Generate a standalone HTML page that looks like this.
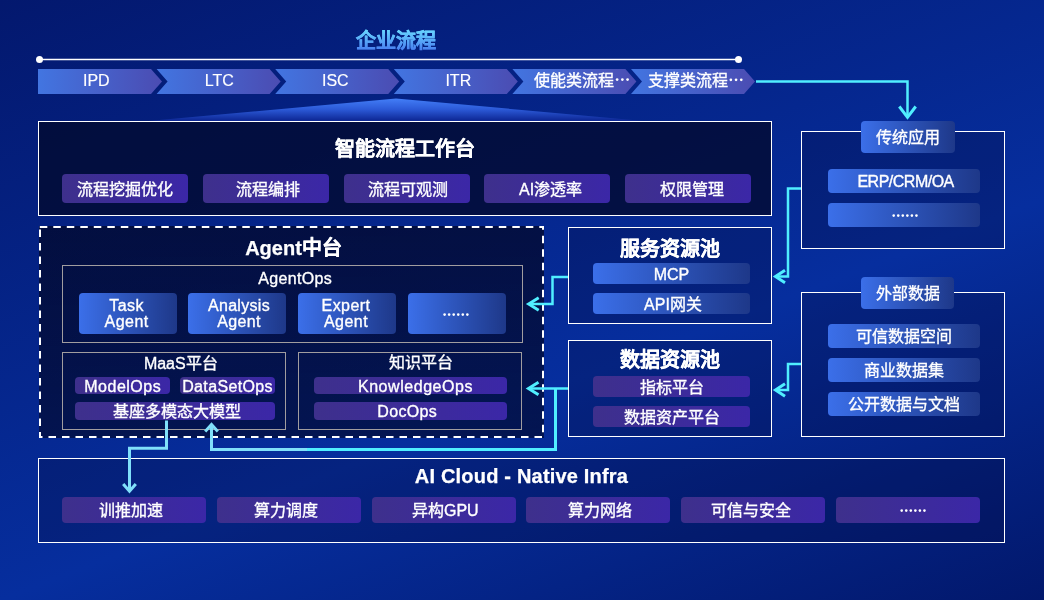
<!DOCTYPE html>
<html lang="zh-CN">
<head>
<meta charset="utf-8">
<style>
*{box-sizing:border-box;margin:0;padding:0}
html,body{width:1044px;height:600px;overflow:hidden}
body{position:relative;font-family:"Liberation Sans",sans-serif;color:#fff;font-size:16px;
background:linear-gradient(159deg,#03186e 0%,#062e9e 60%,#02186c 100%);}
.a{position:absolute}
.t{position:absolute;white-space:nowrap;text-align:center;line-height:20px;height:20px;-webkit-text-stroke:0.35px #fff}
.box{position:absolute;border:1px solid #fff}
.title{position:absolute;font-weight:bold;font-size:20px;line-height:20px;text-align:center;white-space:nowrap;-webkit-text-stroke:0.25px #fff}
.pb,.bb{position:absolute;border-radius:4px;text-align:center;white-space:nowrap;-webkit-text-stroke:0.35px #fff;padding-top:1px}
.pb{background:linear-gradient(90deg,#3e308c,#3b27a7)}
.bb{background:linear-gradient(90deg,#3b6fe9,#1e3889)}
.gbox{position:absolute;border:1px solid #a19d9f}
</style>
</head>
<body>
<div id="w" style="position:absolute;left:0;top:0;width:1044px;height:600px;will-change:transform">
<!-- top title -->
<svg class="a" style="left:296px;top:25px" width="200" height="30" viewBox="0 0 200 30"><defs><linearGradient id="tg" x1="0" y1="5" x2="0" y2="24" gradientUnits="userSpaceOnUse"><stop offset="0" stop-color="#68d6ff"/><stop offset="1" stop-color="#4a84f2"/></linearGradient></defs><text x="100" y="22.5" text-anchor="middle" font-family="Liberation Sans, sans-serif" font-weight="bold" font-size="20" fill="url(#tg)" stroke="url(#tg)" stroke-width="0.5">企业流程</text></svg>

<!-- timeline, chevrons, beam -->
<svg class="a" style="left:0;top:0" width="1044" height="130" viewBox="0 0 1044 130">
<defs>
<linearGradient id="cg" x1="0" y1="0" x2="1" y2="0"><stop offset="0" stop-color="#4275e1"/><stop offset="1" stop-color="#4b4cb2"/></linearGradient>
<linearGradient id="bg1" x1="0" y1="98.5" x2="0" y2="120" gradientUnits="userSpaceOnUse"><stop offset="0" stop-color="#437ef7"/><stop offset="0.5" stop-color="#2c5ad8"/><stop offset="1" stop-color="#0f2a98"/></linearGradient>
</defs>
<line x1="39" y1="59.5" x2="738" y2="59.5" stroke="#fff" stroke-width="1.5"/>
<circle cx="39.5" cy="59.5" r="3.5" fill="#fff"/>
<circle cx="738.5" cy="59.5" r="3.5" fill="#fff"/>
<polygon fill="url(#cg)" points="38,69 151,69 162,81.5 151,94 38,94"/>
<polygon fill="url(#cg)" points="156.6,69 269.6,69 280.6,81.5 269.6,94 156.6,94 167.6,81.5"/>
<polygon fill="url(#cg)" points="275.2,69 388.2,69 399.2,81.5 388.2,94 275.2,94 286.2,81.5"/>
<polygon fill="url(#cg)" points="393.8,69 506.8,69 517.8,81.5 506.8,94 393.8,94 404.8,81.5"/>
<polygon fill="url(#cg)" points="512.4,69 625.4,69 636.4,81.5 625.4,94 512.4,94 523.4,81.5"/>
<polygon fill="url(#cg)" points="631,69 744,69 755,81.5 744,94 631,94 642,81.5"/>
<polygon fill="url(#bg1)" points="148,121 396,98.5 644,121"/>
</svg>
<div class="t" style="left:46.3px;top:71.2px;width:100px;-webkit-text-stroke:0.15px #fff">IPD</div>
<div class="t" style="left:169.3px;top:71.2px;width:100px;-webkit-text-stroke:0.15px #fff">LTC</div>
<div class="t" style="left:285.3px;top:71.2px;width:100px;-webkit-text-stroke:0.15px #fff">ISC</div>
<div class="t" style="left:408.3px;top:71.2px;width:100px;-webkit-text-stroke:0.15px #fff">ITR</div>
<div class="t" style="left:533.6px;top:71.1px;text-align:left">使能类流程</div>
<div class="t" style="left:647.8px;top:71.1px;text-align:left">支撑类流程</div>

<!-- box 1 -->
<div class="box" style="left:38px;top:121px;width:734px;height:95px;background:rgba(3,10,48,.8)"></div>
<div class="title" style="left:38px;top:139px;width:734px">智能流程工作台</div>
<div class="pb" style="left:62px;top:174px;width:126px;height:29px;line-height:29px">流程挖掘优化</div>
<div class="pb" style="left:203px;top:174px;width:126px;height:29px;line-height:29px"><span style="position:relative;left:2px">流程编排</span></div>
<div class="pb" style="left:344px;top:174px;width:126px;height:29px;line-height:29px"><span style="position:relative;left:1.4px">流程可观测</span></div>
<div class="pb" style="left:484px;top:174px;width:126px;height:29px;line-height:29px"><span style="position:relative;left:3.6px">AI渗透率</span></div>
<div class="pb" style="left:625px;top:174px;width:126px;height:29px;line-height:29px"><span style="position:relative;left:3.5px">权限管理</span></div>

<!-- Agent 中台 -->
<div class="a" style="left:39px;top:226px;width:505px;height:212px;background:linear-gradient(180deg,rgba(3,10,48,.8),rgba(3,10,48,.68))"></div>
<svg class="a" style="left:0;top:0" width="1044" height="600" viewBox="0 0 1044 600">
<g fill="none" stroke="#fff" stroke-width="2" stroke-dasharray="7.5 6">
<path d="M39,227 H544" stroke-dashoffset="12.7"/>
<path d="M543,226 V438" stroke-dashoffset="3.8"/>
<path d="M544,437 H39" stroke-dashoffset="11.5"/>
<path d="M40,438 V226" stroke-dashoffset="1.5"/>
</g>
</svg>
<div class="title" style="left:41px;top:238px;width:505px">Agent中台</div>
<div class="gbox" style="left:62px;top:265px;width:461px;height:78px"></div>
<div class="t" style="left:62px;top:269px;width:461px"><span style="position:relative;left:2.7px;letter-spacing:0.34px">AgentOps</span></div>
<div class="bb" style="left:79px;top:293px;width:98px;height:41px;line-height:16.5px;padding-top:4.5px"><span style="position:relative;left:-1.4px;letter-spacing:0.5px">Task<br>Agent</span></div>
<div class="bb" style="left:188px;top:293px;width:98px;height:41px;line-height:16.5px;padding-top:4.5px"><span style="position:relative;left:2px;letter-spacing:0.3px">Analysis<br>Agent</span></div>
<div class="bb" style="left:298px;top:293px;width:98px;height:41px;line-height:16.5px;padding-top:4.5px"><span style="position:relative;left:-1px;letter-spacing:0.45px">Expert<br>Agent</span></div>
<div class="bb" style="left:408px;top:293px;width:98px;height:41px"></div>

<div class="gbox" style="left:62px;top:352px;width:224px;height:78px"></div>
<div class="t" style="left:80.8px;top:353.5px;width:200px">MaaS平台</div>
<div class="pb" style="left:75px;top:377px;width:95px;height:17px;line-height:17px"><span style="position:relative;left:0.25px;letter-spacing:0.5px">ModelOps</span></div>
<div class="pb" style="left:180px;top:377px;width:95px;height:17px;line-height:17px"><span style="position:relative;letter-spacing:0.34px">DataSetOps</span></div>
<div class="pb" style="left:75px;top:402px;width:200px;height:18px;line-height:18px"><span style="position:relative;left:2px">基座多模态大模型</span></div>

<div class="gbox" style="left:298px;top:352px;width:224px;height:78px"></div>
<div class="t" style="left:320.5px;top:352.5px;width:200px">知识平台</div>
<div class="pb" style="left:314px;top:377px;width:193px;height:17px;line-height:17px"><span style="position:relative;left:5px;letter-spacing:0.55px">KnowledgeOps</span></div>
<div class="pb" style="left:314px;top:402px;width:193px;height:18px;line-height:18px"><span style="position:relative;left:-3.3px;letter-spacing:0.35px">DocOps</span></div>

<!-- service / data pools -->
<div class="box" style="left:568px;top:227px;width:204px;height:97px;background:rgba(2,10,60,.3)"></div>
<div class="title" style="left:568px;top:238.5px;width:204px">服务资源池</div>
<div class="bb" style="left:593px;top:263px;width:157px;height:21px;line-height:21px">MCP</div>
<div class="bb" style="left:593px;top:293px;width:157px;height:21px;line-height:21px"><span style="position:relative;left:1.5px">API网关</span></div>

<div class="box" style="left:568px;top:340px;width:204px;height:97px;background:rgba(2,10,60,.3)"></div>
<div class="title" style="left:568px;top:349.5px;width:204px">数据资源池</div>
<div class="pb" style="left:593px;top:376px;width:157px;height:21px;line-height:21px">指标平台</div>
<div class="pb" style="left:593px;top:406px;width:157px;height:21px;line-height:21px">数据资产平台</div>

<!-- right column -->
<div class="box" style="left:801px;top:131px;width:204px;height:118px;background:rgba(2,10,60,.3)"></div>
<div class="bb" style="left:861px;top:121px;width:94px;height:32px;line-height:32px">传统应用</div>
<div class="bb" style="left:828px;top:169px;width:152px;height:24px;line-height:24px"><span style="position:relative;left:1.6px;letter-spacing:-0.5px">ERP/CRM/OA</span></div>
<div class="bb" style="left:828px;top:203px;width:152px;height:24px"></div>

<div class="box" style="left:801px;top:292px;width:204px;height:145px;background:rgba(2,10,60,.3)"></div>
<div class="bb" style="left:861px;top:277px;width:93px;height:32px;line-height:32px">外部数据</div>
<div class="bb" style="left:828px;top:324px;width:152px;height:24px;line-height:24px">可信数据空间</div>
<div class="bb" style="left:828px;top:358px;width:152px;height:24px;line-height:24px">商业数据集</div>
<div class="bb" style="left:828px;top:392px;width:152px;height:24px;line-height:24px">公开数据与文档</div>

<!-- AI cloud -->
<div class="box" style="left:38px;top:458px;width:967px;height:85px;background:rgba(2,10,60,.3)"></div>
<div class="title" style="left:38px;top:466px;width:967px"><span style="letter-spacing:0.19px">AI Cloud - Native Infra</span></div>
<div class="pb" style="left:62px;top:497px;width:144px;height:26px;line-height:26px"><span style="position:relative;left:-2.6px">训推加速</span></div>
<div class="pb" style="left:216.8px;top:497px;width:144px;height:26px;line-height:26px"><span style="position:relative;left:-2.9px">算力调度</span></div>
<div class="pb" style="left:371.6px;top:497px;width:144px;height:26px;line-height:26px"><span style="position:relative;left:1.7px">异构GPU</span></div>
<div class="pb" style="left:526.4px;top:497px;width:144px;height:26px;line-height:26px"><span style="position:relative;left:1.5px">算力网络</span></div>
<div class="pb" style="left:681.2px;top:497px;width:144px;height:26px;line-height:26px"><span style="position:relative;left:-2.1px">可信与安全</span></div>
<div class="pb" style="left:836px;top:497px;width:144px;height:26px"></div>

<!-- connectors + dots -->
<svg class="a" style="left:0;top:0" width="1044" height="600" viewBox="0 0 1044 600" fill="none" stroke="#50eeff" stroke-width="2.5" stroke-linejoin="miter" stroke-linecap="butt">
<defs><linearGradient id="lb" gradientUnits="userSpaceOnUse" x1="555" y1="0" x2="211" y2="0"><stop offset="0" stop-color="#4ff0ff"/><stop offset="1" stop-color="#80e0fa"/></linearGradient></defs>
<path d="M756,81.5 H907.5 V117"/>
<path d="M899.3,106.5 L907.5,117.3 L915.7,106.5" stroke-width="3"/>
<path d="M801,188.5 H788 V276.5 H777"/>
<path d="M785,270.3 L775.5,276.5 L785,282.7" stroke-width="3"/>
<path d="M801,364 H788 V390 H777"/>
<path d="M785,383.8 L775.5,390 L785,396.2" stroke-width="3"/>
<path d="M568,277 H552.5 V304 H530"/>
<path d="M538.7,297.8 L528.7,304 L538.7,310.2" stroke-width="3"/>
<path d="M568,388.5 H530"/>
<path d="M538.5,382.3 L528.5,388.5 L538.5,394.7" stroke-width="3"/>
<path d="M555.5,388.5 V449.5 H307" stroke-width="3"/>
<path d="M307,449.5 H211.5 V425" stroke="#80e0fa" stroke-width="3"/>
<path d="M205.2,431.5 L211.5,424.5 L217.8,431.5" stroke="#80e0fa" stroke-width="3"/>
<path d="M166.5,420.5 V448.3 H129.5 V491" stroke="#80e0fa" stroke-width="3"/>
<path d="M123.2,484 L129.5,491.3 L135.8,484" stroke="#80e0fa" stroke-width="3"/>
<g fill="#fff" stroke="none">
<circle cx="444.60" cy="314.6" r="1.3"/><circle cx="449.15" cy="314.6" r="1.3"/><circle cx="453.70" cy="314.6" r="1.3"/><circle cx="458.25" cy="314.6" r="1.3"/><circle cx="462.80" cy="314.6" r="1.3"/><circle cx="467.35" cy="314.6" r="1.3"/>
<circle cx="893.70" cy="215.6" r="1.3"/><circle cx="898.25" cy="215.6" r="1.3"/><circle cx="902.80" cy="215.6" r="1.3"/><circle cx="907.35" cy="215.6" r="1.3"/><circle cx="911.90" cy="215.6" r="1.3"/><circle cx="916.45" cy="215.6" r="1.3"/>
<circle cx="901.70" cy="510.6" r="1.3"/><circle cx="906.25" cy="510.6" r="1.3"/><circle cx="910.80" cy="510.6" r="1.3"/><circle cx="915.35" cy="510.6" r="1.3"/><circle cx="919.90" cy="510.6" r="1.3"/><circle cx="924.45" cy="510.6" r="1.3"/>
<circle cx="617.15" cy="79.6" r="1.35"/><circle cx="622.35" cy="79.6" r="1.35"/><circle cx="627.55" cy="79.6" r="1.35"/>
<circle cx="730.85" cy="79.8" r="1.35"/><circle cx="736.05" cy="79.8" r="1.35"/><circle cx="741.25" cy="79.8" r="1.35"/>
</g>
</svg>
</div>
</body>
</html>
